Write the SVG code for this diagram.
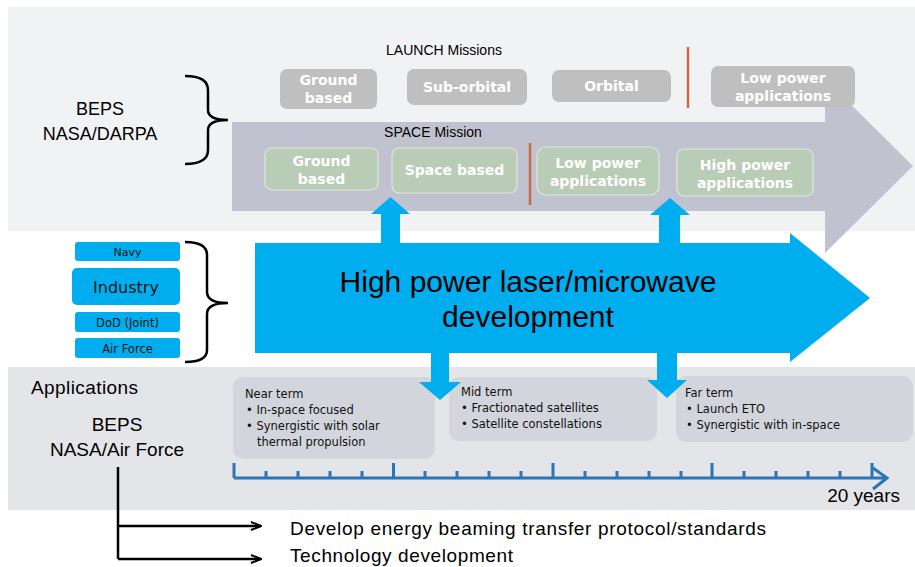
<svg xmlns="http://www.w3.org/2000/svg" width="915" height="567" viewBox="0 0 915 567">
<defs>
<style>
.t{font-family:"Liberation Sans",Arial,sans-serif;fill:#000}
.b{font-family:"DejaVu Sans",Verdana,sans-serif;font-weight:bold;fill:#fff;font-size:14px;text-anchor:middle}
.lb{fill:#bfbfbf}
.sb{fill:#b9ccb5;stroke:#dde7db;stroke-width:1.2}
.red{stroke:#c8694a;stroke-width:2.5}
.blue{fill:#00aeef}
.sm{font-family:"DejaVu Sans",Verdana,sans-serif;fill:#111}
.term{fill:#d3d5dc}
.brace{fill:none;stroke:#000;stroke-width:2.5}
.conn{fill:none;stroke:#000;stroke-width:2.5}
.tl{fill:none;stroke:#2a74b8;stroke-width:3}
</style>
<marker id="ah" markerWidth="12" markerHeight="10" refX="11" refY="5" orient="auto" markerUnits="userSpaceOnUse">
<path d="M1,1 L11,5 L1,9" fill="none" stroke="#000" stroke-width="2"/>
</marker>
</defs>
<rect width="915" height="567" fill="#fff"/>
<rect id="top-panel" x="8" y="7" width="907" height="224" fill="#f1f2f4"/>
<rect id="bottom-panel" x="8" y="367" width="907" height="143" fill="#e4e5e9"/>

<g id="space-arrow">
<polygon points="232,122 825,122 825,79 913,166 825,253 825,211 232,211" fill="#c0c3cf"/>
</g>

<g id="launch-title"><text class="t" x="444" y="55" font-size="14" text-anchor="middle">LAUNCH Missions</text></g>
<g id="launch-ground"><rect class="lb" x="280" y="69" width="97" height="40" rx="7"/><text class="b" x="328.5" y="85">Ground</text><text class="b" x="328.5" y="103">based</text></g>
<g id="launch-suborbital"><rect class="lb" x="407" y="69" width="120" height="36" rx="7"/><text class="b" x="467" y="92">Sub-orbital</text></g>
<g id="launch-orbital"><rect class="lb" x="552" y="70" width="119" height="32" rx="7"/><text class="b" x="611.5" y="91">Orbital</text></g>
<line class="red" x1="688" y1="47" x2="688" y2="108"/>
<g id="launch-lowpower"><rect class="lb" x="711" y="66" width="144" height="41" rx="7"/><text class="b" x="783" y="83">Low power</text><text class="b" x="783" y="101">applications</text></g>

<g id="space-title"><text class="t" x="433" y="137" font-size="14" text-anchor="middle">SPACE Mission</text></g>
<g id="space-ground"><rect class="sb" x="265" y="148" width="113" height="42" rx="7"/><text class="b" x="321.5" y="166">Ground</text><text class="b" x="321.5" y="184">based</text></g>
<g id="space-spacebased"><rect class="sb" x="392" y="148" width="125" height="45" rx="7"/><text class="b" x="454.5" y="175">Space based</text></g>
<line class="red" x1="530" y1="143" x2="530" y2="205"/>
<g id="space-lowpower"><rect class="sb" x="537" y="147" width="122" height="48" rx="9"/><text class="b" x="598" y="168">Low power</text><text class="b" x="598" y="186">applications</text></g>
<g id="space-highpower"><rect class="sb" x="677" y="149" width="136" height="47" rx="7"/><text class="b" x="745" y="170">High power</text><text class="b" x="745" y="188">applications</text></g>

<g id="beps-darpa"><text class="t" x="100" y="115" font-size="18" text-anchor="middle">BEPS</text><text class="t" x="100" y="140" font-size="18" text-anchor="middle">NASA/DARPA</text></g>

<g id="orgs">
<g id="navy"><rect class="blue" x="75" y="242" width="105" height="19" rx="3"/><text class="sm" x="127.5" y="256" text-anchor="middle" font-size="11">Navy</text></g>
<g id="industry"><rect class="blue" x="72" y="268" width="108" height="37" rx="5"/><text class="sm" x="126" y="292.5" text-anchor="middle" font-size="16">Industry</text></g>
<g id="dod"><rect class="blue" x="75" y="312" width="105" height="20" rx="3"/><text class="sm" x="127.5" y="326.5" text-anchor="middle" font-size="11.5">DoD (Joint)</text></g>
<g id="airforce"><rect class="blue" x="75" y="338" width="105" height="20" rx="3"/><text class="sm" x="127.5" y="352.5" text-anchor="middle" font-size="11.5">Air Force</text></g>
</g>

<g id="main-arrow">
<polygon class="blue" points="255,243 790,243 790,233 870,298 790,362 790,353 255,353"/>
<text class="t" x="528" y="292" font-size="30" text-anchor="middle">High power laser/microwave</text>
<text class="t" x="528" y="327" font-size="30" text-anchor="middle">development</text>
</g>

<g id="applications"><text class="t" x="31" y="394" font-size="19" textLength="107">Applications</text></g>
<g id="beps-af"><text class="t" x="117" y="431" font-size="19" text-anchor="middle">BEPS</text><text class="t" x="117" y="456" font-size="19" text-anchor="middle">NASA/Air Force</text></g>

<g id="near-term"><rect class="term" x="233" y="377" width="202" height="82" rx="10"/>
<text class="sm" font-size="11.5"><tspan x="245" y="398">Near term</tspan><tspan x="246" y="414">•  In-space focused</tspan><tspan x="246" y="430">•  Synergistic with solar</tspan><tspan x="257" y="446">thermal propulsion</tspan></text></g>
<g id="mid-term"><rect class="term" x="449" y="377" width="208" height="64" rx="10"/>
<text class="sm" font-size="11.5"><tspan x="461" y="396">Mid term</tspan><tspan x="461" y="412">•  Fractionated satellites</tspan><tspan x="461" y="428">•  Satellite constellations</tspan></text></g>
<g id="far-term"><rect class="term" x="676" y="376" width="237" height="66" rx="10"/>
<text class="sm" font-size="11.5"><tspan x="685" y="397">Far term</tspan><tspan x="686" y="413">•  Launch ETO</tspan><tspan x="686" y="429">•  Synergistic with in-space</tspan></text></g>

<g id="connectors">
<polygon class="blue" points="381,243 381,214 371,214 390.5,197 410,214 400,214 400,243"/>
<polygon class="blue" points="659,243 659,215 650,215 670,198 690,215 680,215 680,243"/>
<polygon class="blue" points="431,353 431,382 419,382 440,400 461,382 449,382 449,353"/>
<polygon class="blue" points="657,353 657,380 647,380 667,398 687,380 677,380 677,353"/>
<path class="conn" d="M118,467 L118,559"/>
<path class="conn" d="M118,526 L261,526" marker-end="url(#ah)"/>
<path class="conn" d="M118,559 L261,559" marker-end="url(#ah)"/>
<path class="brace" d="M185,76 Q208,76 208,90 L208,110 Q208,120 228,120 Q208,120 208,130 L208,150 Q208,164 185,164"/>
<path class="brace" d="M185,242 Q207,242 207,255 L207,292 Q207,303 228,303 Q207,303 207,314 L207,350 Q207,362 185,362"/>
</g>

<g id="timeline">
<path class="tl" d="M234,478 L886,478 M873,468 L887,478 L873,489"/>
<path class="tl" d="M234,478 V463 M266,478 V471 M298,478 V471 M330,478 V471 M362,478 V471 M393.5,478 V463 M425,478 V471 M457,478 V471 M489,478 V471 M521,478 V471 M553,478 V463 M585,478 V471 M617,478 V471 M649,478 V471 M681,478 V471 M712,478 V463 M744,478 V471 M776,478 V471 M808,478 V471 M840,478 V471 M872,478 V463"/>
<text class="t" x="900" y="502" font-size="19" text-anchor="end">20 years</text>
</g>

<g id="outcomes">
<text class="t" x="290" y="535" font-size="19" textLength="476">Develop energy beaming transfer protocol/standards</text>
<text class="t" x="290" y="562" font-size="19" textLength="223">Technology development</text>
</g>
</svg>
